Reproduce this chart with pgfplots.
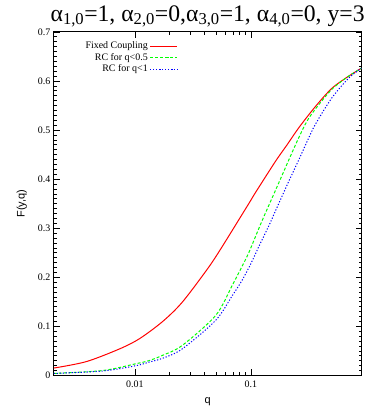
\documentclass[border=0pt]{standalone}
\usepackage{fontspec}
\setmainfont{Liberation Serif}
\setsansfont{Liberation Sans}
\usepackage{pgfplots}
\pgfplotsset{compat=1.18}

\begin{document}
\begin{tikzpicture}
\begin{axis}[
    name=main,
    scale only axis,
    width=309pt, height=345pt,
    xmode=log,
    xmin=0.002, xmax=0.9,
    ymin=0, ymax=0.7,
    xtick={0.01,0.1}, xticklabels={0.01,0.1},
    ytick={0,0.1,0.2,0.3,0.4,0.5,0.6,0.7},
    yticklabels={0,0.1,0.2,0.3,0.4,0.5,0.6,0.7},
    minor y tick num=9,
    major tick length=6pt, minor tick length=3pt,
    every tick/.style={black, line width=0.6pt},
    axis line style={line width=0.9pt},
    tick label style={font=\fontsize{10}{12}\selectfont},
    xticklabel style={yshift=-2pt},
    /pgf/number format/assume math mode=true,
    xlabel={\sffamily q}, ylabel={\sffamily F(y,q)},
    label style={font=\fontsize{11}{13}\selectfont},
    xlabel style={yshift=-3pt},
    ylabel style={yshift=4pt},
    title={α\textsubscript{1,0}=1, α\textsubscript{2,0}=0,α\textsubscript{3,0}=1, α\textsubscript{4,0}=0, y=3},
    title style={font=\fontsize{23.8}{26}\selectfont, yshift=-5pt},
    legend style={at={(0.414,0.983)}, anchor=north east, draw=white, fill=none,
        font=\fontsize{10}{12}\selectfont, cells={anchor=east}, row sep=-1pt},
    legend plot pos=right,
    every axis plot/.append style={line width=1pt, smooth},
]
% Fixed coupling
\addplot[color=red, draw=red, mark=none,
    legend image post style={xscale=1.6, draw=red}] coordinates {
    (0.002,0.015)(0.0038,0.028)(0.00738,0.054)(0.011,0.075)
    (0.0174,0.110)(0.0256,0.149)(0.042,0.216)(0.0548,0.257)(0.096,0.350)
    (0.110,0.373)(0.163,0.436)(0.2056,0.470)(0.26,0.505)(0.361,0.548)
    (0.5,0.585)(0.7,0.610)(0.9,0.626)
};
\addlegendentry{Fixed Coupling}
% RC for q<0.5
\addplot[color=green, draw=green, mark=none, dash pattern=on 3pt off 2pt,
    legend image post style={xscale=1.6, draw=green}] coordinates {
    (0.002,0.004)(0.0053,0.010)(0.0103,0.024)(0.0132,0.030)(0.0174,0.041)
    (0.0256,0.061)(0.0497,0.122)(0.069,0.183)(0.0815,0.216)(0.096,0.250)
    (0.125,0.315)(0.174,0.392)(0.243,0.470)(0.30,0.515)(0.361,0.543)
    (0.5,0.583)(0.7,0.610)(0.9,0.626)
};
\addlegendentry{RC for q<0.5}
% RC for q<1
\addplot[color=blue, draw=blue, mark=none, dash pattern=on 1.2pt off 1.8pt,
    legend image post style={xscale=1.6, draw=blue}] coordinates {
    (0.002,0.004)(0.0053,0.009)(0.0103,0.020)(0.0132,0.027)(0.0174,0.035)
    (0.0256,0.054)(0.0497,0.112)(0.069,0.162)(0.0842,0.194)(0.0993,0.226)
    (0.117,0.262)(0.143,0.305)(0.174,0.350)(0.213,0.396)(0.26,0.440)
    (0.305,0.476)(0.361,0.512)(0.502,0.566)(0.7,0.606)(0.9,0.626)
};
\addlegendentry{RC for q<1}
\end{axis}
\path[use as bounding box] ([xshift=-54pt,yshift=-32pt]main.south west)
    rectangle ([xshift=19pt,yshift=32pt]main.north east);
\end{tikzpicture}
\end{document}
